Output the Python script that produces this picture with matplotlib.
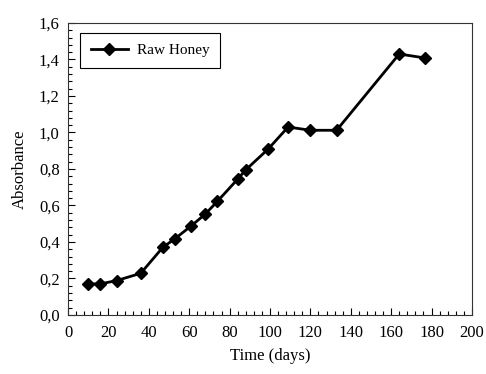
import matplotlib
matplotlib.use("Agg")
import matplotlib.pyplot as plt
from matplotlib.ticker import MultipleLocator, FuncFormatter

matplotlib.rcParams['font.family'] = 'Liberation Serif'
fontsize = 12

days = [10, 16, 24, 36, 47, 53, 61, 68, 74, 84, 88, 99, 109, 120, 133, 164, 177]
absorbance = [0.17, 0.17, 0.188, 0.228, 0.371, 0.418, 0.488, 0.553, 0.623,
              0.744, 0.795, 0.908, 1.030, 1.012, 1.012, 1.430, 1.408]

fig = plt.figure(figsize=(4.86, 3.74), dpi=100)
ax = fig.add_axes([0.140, 0.158, 0.831, 0.7805])

ax.plot(days, absorbance, color="black", lw=2, marker="D", markersize=6.5,
        label="Raw Honey")

ax.set_xlim(0, 200)
ax.set_ylim(0, 1.6)
ax.xaxis.set_major_locator(MultipleLocator(20))
ax.xaxis.set_minor_locator(MultipleLocator(4))
ax.yaxis.set_major_locator(MultipleLocator(0.2))
ax.yaxis.set_minor_locator(MultipleLocator(0.04))
ax.yaxis.set_major_formatter(FuncFormatter(lambda v, p: "{:.1f}".format(v).replace(".", ",")))
ax.tick_params(which="both", direction="in", top=False, right=False, labelsize=fontsize)
ax.tick_params(axis="x", which="major", pad=7)
ax.tick_params(axis="y", which="major", pad=6)
ax.tick_params(which="major", length=5, width=0.8)
ax.tick_params(which="minor", length=3, width=0.8)
for s in ax.spines.values():
    s.set_linewidth(0.8)
    s.set_color("#333333")

ax.set_xlabel("Time (days)", fontsize=fontsize, labelpad=5)
ax.set_ylabel("Absorbance", fontsize=fontsize, labelpad=8)

leg = ax.legend(loc="upper left", fontsize=11, fancybox=False, framealpha=1,
                edgecolor="black", borderpad=0.7, handlelength=2.4, handletextpad=0.6,
                borderaxespad=0, bbox_to_anchor=(0.03, 0.966))
leg.get_frame().set_linewidth(0.8)

fig.savefig("out.png", dpi=100)
plt.close(fig)
